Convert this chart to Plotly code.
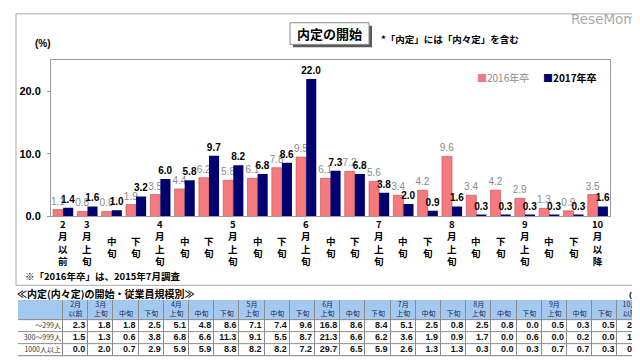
import plotly.graph_objects as go

# ---------------- data ----------------
categories = ["2月以前", "3月上旬", "3月中旬", "3月下旬", "4月上旬", "4月中旬", "4月下旬",
              "5月上旬", "5月中旬", "5月下旬", "6月上旬", "6月中旬", "6月下旬",
              "7月上旬", "7月中旬", "7月下旬", "8月上旬", "8月中旬", "8月下旬",
              "9月上旬", "9月中旬", "9月下旬", "10月以降"]
axis_labels = [["2", "月", "以", "前"], ["3", "月", "上", "旬"], ["中", "旬"], ["下", "旬"],
               ["4", "月", "上", "旬"], ["中", "旬"], ["下", "旬"],
               ["5", "月", "上", "旬"], ["中", "旬"], ["下", "旬"],
               ["6", "月", "上", "旬"], ["中", "旬"], ["下", "旬"],
               ["7", "月", "上", "旬"], ["中", "旬"], ["下", "旬"],
               ["8", "月", "上", "旬"], ["中", "旬"], ["下", "旬"],
               ["9", "月", "上", "旬"], ["中", "旬"], ["下", "旬"],
               ["10", "月", "以", "降"]]
series_names = ["2016年卒", "2017年卒"]
values_2016 = [1.1, 0.8, 0.8, 1.9, 3.5, 4.4, 6.2, 5.8, 6.1, 7.8, 9.5, 6.1, 7.2,
               5.6, 3.4, 4.2, 9.6, 3.4, 4.2, 2.9, 1.3, 0.9, 3.5]
values_2017 = [1.4, 1.6, 1.0, 3.2, 6.0, 5.8, 9.7, 8.2, 6.8, 8.6, 22.0, 7.3, 6.8,
               3.8, 2.0, 0.9, 1.6, 0.3, 0.3, 0.3, 0.3, 0.3, 1.6]
y_ticks = [0, 10, 20]

table_header_top = ["", "2月", "3月", "", "", "4月", "", "", "5月", "", "", "6月", "", "",
                    "7月", "", "", "8月", "", "", "9月", "", "", "10月"]
table_header_bottom = ["", "以前", "上旬", "中旬", "下旬", "上旬", "中旬", "下旬",
                       "上旬", "中旬", "下旬", "上旬", "中旬", "下旬",
                       "上旬", "中旬", "下旬", "上旬", "中旬", "下旬",
                       "上旬", "中旬", "下旬", "以降"]
table_rows = ["～299人", "300～999人", "1000人以上"]
size_small = [2.3, 1.8, 1.8, 2.5, 5.1, 4.8, 8.6, 7.1, 7.4, 9.6, 16.8, 8.6, 8.4,
              5.1, 2.5, 0.8, 2.5, 0.8, 0.0, 0.5, 0.3, 0.5, 2.3]
size_mid = [1.5, 1.3, 0.6, 3.8, 6.8, 6.6, 11.3, 9.1, 5.5, 8.7, 21.3, 6.6, 6.2,
            3.6, 1.9, 0.9, 1.7, 0.0, 0.6, 0.0, 0.2, 0.0, 1.7]
size_large = [0.0, 2.0, 0.7, 2.9, 5.9, 5.9, 8.8, 8.2, 8.2, 7.2, 29.7, 6.5, 5.9,
              2.6, 1.3, 1.3, 0.3, 0.0, 0.3, 0.7, 0.7, 0.3, 0.7]
table_values = [size_small, size_mid, size_large]

# ---------------- styling ----------------
W, H = 640, 362
FONT = "Liberation Sans, Arial, Noto Sans CJK JP, sans-serif"
JFONT = "Noto Sans CJK JP, Liberation Sans, sans-serif"
PINK = "#f57a7e"
NAVY = "#000070"


def px(x):
    return x / W


def py(y):
    return 1 - y / H


fig = go.Figure()

fig.add_trace(go.Bar(
    x=categories, y=values_2016, name=series_names[0],
    marker=dict(color=PINK, line=dict(color="#c04a4e", width=0.6)),
    text=[f"{v:.1f}" for v in values_2016], textposition="outside",
    textfont=dict(family=FONT, size=10, color="#8a8a8a"),
    constraintext="none", cliponaxis=False, showlegend=False, hoverinfo="skip",
))
fig.add_trace(go.Bar(
    x=categories, y=values_2017, name=series_names[1],
    marker=dict(color=NAVY, line=dict(width=0)),
    text=[f"<b>{v:.1f}</b>" for v in values_2017], textposition="outside",
    textfont=dict(family=FONT, size=10, color="#000000"),
    constraintext="none", cliponaxis=False, showlegend=False, hoverinfo="skip",
))

# ---------------- table (heatmap cells + text on its own axes) ----------------
col_widths = [45] + [25.2] * len(categories)
row_heights = [20, 12.3, 12.3, 12.3]
x_edges = [0]
for w_ in col_widths:
    x_edges.append(x_edges[-1] + w_)
y_edges = [0]
for h_ in row_heights:
    y_edges.append(y_edges[-1] + h_)
ncol = len(col_widths)
z = [[1] * ncol] + [[0] * ncol for _ in table_rows]

fig.add_trace(go.Heatmap(
    x=x_edges, y=y_edges, z=z, xaxis="x2", yaxis="y2",
    colorscale=[[0, "white"], [1, "#a3c9f1"]], zmin=0, zmax=1,
    showscale=False, xgap=1, ygap=1, hoverinfo="skip",
))

# header text
hx, hy, ht = [], [], []
for j in range(ncol):
    cx = (x_edges[j] + x_edges[j + 1]) / 2
    if table_header_top[j]:
        hx.append(cx); hy.append(5); ht.append(table_header_top[j])
    if table_header_bottom[j]:
        hx.append(cx); hy.append(14.5); ht.append(table_header_bottom[j])
fig.add_trace(go.Scatter(
    x=hx, y=hy, text=ht, mode="text", xaxis="x2", yaxis="y2",
    textposition="middle center", showlegend=False, hoverinfo="skip",
    textfont=dict(family=JFONT, size=7, color="#1c2550"),
))
# row labels
row_cy = [(y_edges[i + 1] + y_edges[i + 2]) / 2 for i in range(len(table_rows))]
fig.add_trace(go.Scatter(
    x=[x_edges[1] - 2] * len(table_rows), y=row_cy, text=table_rows,
    mode="text", xaxis="x2", yaxis="y2", textposition="middle left",
    showlegend=False, hoverinfo="skip",
    textfont=dict(family=JFONT, size=7, color="#333"),
))
# values
vx, vy, vt = [], [], []
for i, row in enumerate(table_values):
    for j, v in enumerate(row):
        vx.append(x_edges[j + 2] - 3)
        vy.append(row_cy[i])
        vt.append(f"{v:.1f}")
fig.add_trace(go.Scatter(
    x=vx, y=vy, text=vt, mode="text", xaxis="x2", yaxis="y2",
    textposition="middle left", showlegend=False, hoverinfo="skip",
    textfont=dict(family=FONT, size=9, color="#111", weight="bold"),
))

fig.update_layout(
    width=W, height=H, margin=dict(l=0, r=0, t=0, b=0),
    paper_bgcolor="white", plot_bgcolor="white",
    barmode="group", bargap=0.17, bargroupgap=0,
    font=dict(family=FONT, color="#000"),
    xaxis=dict(domain=[px(43), px(602)], showticklabels=False, ticks="",
               showline=True, mirror=True, linecolor="#9a9a9a", linewidth=1,
               showgrid=False, zeroline=False, fixedrange=True),
    yaxis=dict(domain=[py(212), py(53)], range=[0, 25], tickvals=y_ticks,
               tickformat=".1f", ticks="outside", ticklen=3, tickcolor="#9a9a9a",
               tickfont=dict(family=FONT, size=11, color="#000", weight="bold"),
               showline=True, mirror=True, linecolor="#9a9a9a", linewidth=1,
               showgrid=False, zeroline=False, ticklabelstandoff=4),
    xaxis2=dict(domain=[px(10), px(10 + x_edges[-1])], range=[0, x_edges[-1]], visible=False,
                anchor="y2", fixedrange=True),
    yaxis2=dict(domain=[py(354), py(297)], range=[y_edges[-1], 0], visible=False,
                anchor="x2", fixedrange=True),
)

shapes = []
annotations = []

# gray grid behind the table cells
shapes.append(dict(type="rect", xref="x2", yref="y2", layer="below",
                   x0=x_edges[0], x1=x_edges[-1], y0=y_edges[0], y1=y_edges[-1],
                   line=dict(color="#8c8c8c", width=1), fillcolor="#8c8c8c"))
# outer frame
shapes.append(dict(type="rect", xref="paper", yref="paper",
                   x0=px(8), x1=px(632), y0=py(282), y1=py(6),
                   line=dict(color="#a8a8a8", width=1)))
# title box shadow and box
shapes.append(dict(type="rect", xref="paper", yref="paper",
                   x0=px(285), x1=px(364), y0=py(40), y1=py(18),
                   line=dict(width=0), fillcolor="#5a5a5a"))
shapes.append(dict(type="rect", xref="paper", yref="paper",
                   x0=px(282), x1=px(361), y0=py(37), y1=py(15),
                   line=dict(color="#8a8a8a", width=1), fillcolor="white"))
annotations.append(dict(text="<b>内定の開始</b>", x=px(321.5), y=py(26), xref="paper", yref="paper",
                        showarrow=False, font=dict(family=JFONT, size=13, color="#000"),
                        xanchor="center", yanchor="middle"))
annotations.append(dict(text="<b>*「内定」には「内々定」を含む</b>", x=px(371), y=py(32),
                        xref="paper", yref="paper", showarrow=False,
                        font=dict(family=JFONT, size=9.5, color="#000"),
                        xanchor="left", yanchor="middle"))
annotations.append(dict(text="<b>(%)</b>", x=px(35), y=py(36), xref="paper", yref="paper",
                        showarrow=False, font=dict(family=FONT, size=10, color="#000"),
                        xanchor="center", yanchor="middle"))
annotations.append(dict(text="ReseMom", x=px(630), y=py(11), xref="paper", yref="paper",
                        showarrow=False,
                        font=dict(family="DejaVu Sans", size=13.5, color="rgba(140,140,140,0.75)"),
                        xanchor="right", yanchor="middle"))

# legend (custom)
annotations.append(dict(text=f"<span style='color:{PINK}'>■</span>{series_names[0]}",
                        x=px(467), y=py(71), xref="paper", yref="paper", showarrow=False,
                        font=dict(family=JFONT, size=10, color="#8a8a8a"),
                        xanchor="left", yanchor="middle"))
annotations.append(dict(text=f"<span style='color:{NAVY}'>■</span><b>{series_names[1]}</b>",
                        x=px(533), y=py(71), xref="paper", yref="paper", showarrow=False,
                        font=dict(family=JFONT, size=10, color="#000"),
                        xanchor="left", yanchor="middle"))

# vertical category labels (one stacked text per category)
for cat, parts in zip(categories, axis_labels):
    n = len(parts)
    cy = 238 if n == 4 else 243
    annotations.append(dict(text="<b>" + "<br>".join(parts) + "</b>", x=cat, xref="x",
                            y=py(cy), yref="paper", showarrow=False,
                            font=dict(family=JFONT, size=9.5, color="#000"),
                            xanchor="center", yanchor="middle"))

annotations.append(dict(text="<b>※「2016年卒」は、2015年7月調査</b>", x=px(15), y=py(273),
                        xref="paper", yref="paper", showarrow=False,
                        font=dict(family=JFONT, size=9.5, color="#000"),
                        xanchor="left", yanchor="middle"))
annotations.append(dict(text="<b>≪内定(内々定)の開始・従業員規模別≫</b>", x=px(7), y=py(290),
                        xref="paper", yref="paper", showarrow=False,
                        font=dict(family=JFONT, size=10, color="#000"),
                        xanchor="left", yanchor="middle"))
annotations.append(dict(text="<b>(%)</b>", x=px(636), y=py(291), xref="paper", yref="paper",
                        showarrow=False, font=dict(family=FONT, size=8, color="#000"),
                        xanchor="right", yanchor="middle"))

fig.update_layout(shapes=shapes, annotations=annotations)
fig.write_html("out.html")
